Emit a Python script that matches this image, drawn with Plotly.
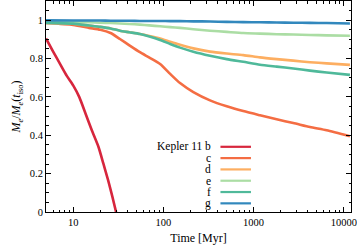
import plotly.graph_objects as go
import numpy as np

# Data
t_b = [5, 6, 7.2, 8.5, 10, 11.7, 13.8, 16.1, 19.1, 21.6, 24.4, 27.2, 29.9]
m_b = [0.905, 0.836, 0.77, 0.71, 0.66, 0.599, 0.51, 0.426, 0.339, 0.253, 0.166, 0.08, 0.0]

t = [5, 10, 15, 20, 26, 33, 42, 55, 70, 92, 119, 153, 215, 329, 504, 769, 1178, 1803, 2757, 4221, 6458, 11700]
m_c = [0.985, 0.975, 0.96, 0.95, 0.933, 0.902, 0.869, 0.833, 0.805, 0.772, 0.72, 0.672, 0.625, 0.582, 0.551, 0.526, 0.504, 0.483, 0.464, 0.443, 0.426, 0.395]
m_d = [0.986, 0.982, 0.972, 0.965, 0.957, 0.945, 0.937, 0.928, 0.918, 0.905, 0.888, 0.872, 0.853, 0.836, 0.826, 0.818, 0.806, 0.797, 0.789, 0.781, 0.775, 0.767]
m_e = [0.992, 0.99, 0.989, 0.987, 0.985, 0.983, 0.98, 0.977, 0.973, 0.968, 0.964, 0.96, 0.953, 0.945, 0.939, 0.933, 0.93, 0.927, 0.925, 0.923, 0.921, 0.919]
m_f = [0.986, 0.982, 0.972, 0.965, 0.957, 0.945, 0.937, 0.928, 0.915, 0.897, 0.876, 0.857, 0.836, 0.815, 0.797, 0.783, 0.768, 0.758, 0.748, 0.737, 0.727, 0.715]
m_g = [0.999, 0.998, 0.998, 0.998, 0.997, 0.997, 0.997, 0.996, 0.996, 0.996, 0.995, 0.995, 0.994, 0.993, 0.991, 0.99, 0.989, 0.988, 0.987, 0.986, 0.985, 0.983]

labels = ["Kepler 11 b", "c", "d", "e", "f", "g"]
colors = ["#d7263d", "#f46d43", "#fdae61", "#abdda4", "#4fb99a", "#3288bd"]

series = [(t_b, m_b), (t, m_c), (t, m_d), (t, m_e), (t, m_f), (t, m_g)]

x_ticks = [10, 100, 1000, 10000]
x_ticktext = ["10", "100", "1000", "10000"]

fig = go.Figure()
for (tx, my), lab, col in zip(series, labels, colors):
    fig.add_trace(go.Scatter(x=tx, y=my, mode="lines", name=lab,
                             line=dict(color=col, width=2.6, shape="spline", smoothing=0.6),
                             showlegend=False))

# custom legend: right-aligned text with line sample on its right
leg_x_text = 0.548
leg_x0, leg_x1 = 0.572, 0.672
leg_y0 = 0.309
leg_dy = 0.0536
for i, (lab, col) in enumerate(zip(labels, colors)):
    yy = leg_y0 - i * leg_dy
    fig.add_annotation(x=leg_x_text, y=yy, xref="paper", yref="paper", text=lab,
                       showarrow=False, xanchor="right", yanchor="middle",
                       font=dict(family="Liberation Serif", size=11.5, color="black"))
    fig.add_shape(type="line", xref="paper", yref="paper", x0=leg_x0, x1=leg_x1,
                  y0=yy, y1=yy, line=dict(color=col, width=2.2))

minor_x = [m * 10 ** k for k in range(0, 5) for m in range(2, 10)]

fig.update_xaxes(type="log", range=[np.log10(5), 4.08],
                 tickvals=x_ticks, ticktext=x_ticktext, ticklabeloverflow="allow",
                 ticks="inside", ticklen=5, tickwidth=1, tickcolor="black",
                 showline=True, linecolor="black", linewidth=1, mirror="ticks",
                 showgrid=False, zeroline=False,
                 minor=dict(tickvals=minor_x, ticks="inside", ticklen=2.5, tickcolor="black", showgrid=False),
                 tickfont=dict(family="Liberation Serif", size=10.5, color="black"),
                 title=dict(text="Time [Myr]", standoff=7,
                            font=dict(family="Liberation Serif", size=12, color="black")))
fig.update_yaxes(range=[0, 1.1], dtick=0.2, tick0=0,
                 ticks="inside", ticklen=5, tickwidth=1, tickcolor="black",
                 showline=True, linecolor="black", linewidth=1, mirror="ticks",
                 showgrid=False, zeroline=False,
                 minor=dict(dtick=0.05, ticks="inside", ticklen=2.5, tickcolor="black", showgrid=False),
                 tickfont=dict(family="Liberation Serif", size=10.5, color="black"),
                 title=dict(text="<i>M<sub>e</sub></i>/<i>M<sub>e</sub></i>(<i>t</i><sub>iso</sub>)", standoff=6,
                            font=dict(family="Liberation Serif", size=12, color="black")))

fig.update_layout(width=357, height=247, margin=dict(l=46, r=6, t=1, b=35),
                  plot_bgcolor="white", paper_bgcolor="white")

fig.write_html("out.html", config={"displayModeBar": False},
               post_script="document.body.style.margin='0';document.body.style.overflow='hidden';")
